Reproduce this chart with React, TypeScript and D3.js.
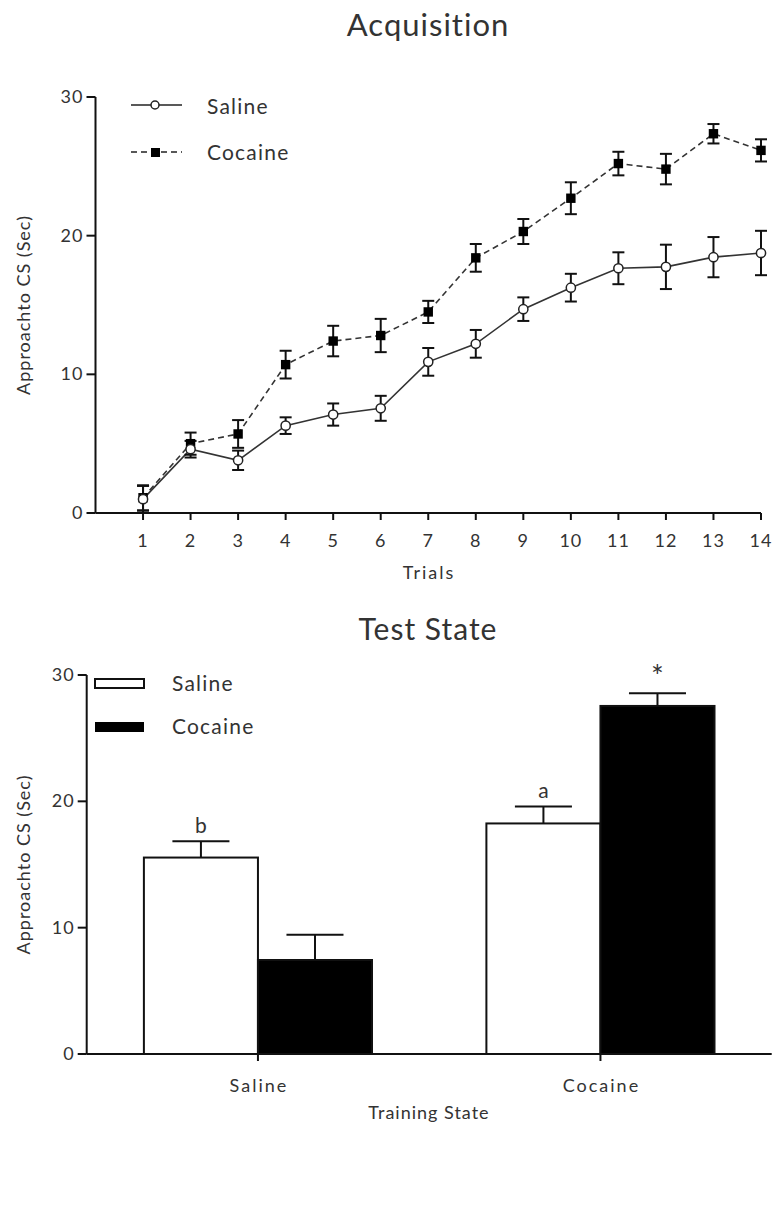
import * as d3 from "d3";

const trials = [1, 2, 3, 4, 5, 6, 7, 8, 9, 10, 11, 12, 13, 14];
const salineMean = [1.0, 4.6, 3.8, 6.3, 7.1, 7.55, 10.9, 12.2, 14.7, 16.25, 17.65, 17.75, 18.45, 18.75];
const salineErr = [0.95, 0.6, 0.7, 0.6, 0.8, 0.9, 1.0, 1.0, 0.85, 1.0, 1.15, 1.6, 1.45, 1.6];
const cocaineMean = [1.1, 5.0, 5.7, 10.7, 12.4, 12.8, 14.5, 18.4, 20.3, 22.7, 25.2, 24.8, 27.35, 26.15];
const cocaineErr = [0.9, 0.8, 1.0, 1.0, 1.1, 1.2, 0.8, 1.0, 0.9, 1.15, 0.85, 1.1, 0.7, 0.8];

const trainingStates = ["Saline", "Cocaine"];
const testGroups = ["Saline", "Cocaine"];
const salineTestMean = [15.55, 18.25];
const salineTestErr = [1.3, 1.35];
const cocaineTestMean = [7.44, 27.55];
const cocaineTestErr = [2.0, 1.0];
const salineTestMarks = ["b", "a"];
const cocaineTestMarks = ["", "*"];

const yTicks = [0, 10, 20, 30];

const FONT = "Lato, 'Open Sans', sans-serif";
const TXT = "#333";

function Acquisition() {
  const x = d3.scaleLinear().domain([0, 14]).range([95.5, 761]);
  const y = d3.scaleLinear().domain([0, 30]).range([513, 97]);
  const line = d3
    .line<number>()
    .x((d, i) => x(trials[i]))
    .y((d) => y(d));
  const cap = 6;

  return (
    <g fontFamily={FONT} fill={TXT}>
      <text x={428} y={36} textAnchor="middle" fontSize={31} letterSpacing={1}>
        Acquisition
      </text>

      {/* axes */}
      <line x1={x(0)} x2={x(0)} y1={y(30)} y2={y(0)} stroke="#111" strokeWidth={2} />
      <line x1={x(0)} x2={x(14)} y1={y(0)} y2={y(0)} stroke="#111" strokeWidth={2} />
      {yTicks.map((t) => (
        <g key={t}>
          <line x1={x(0) - 9} x2={x(0)} y1={y(t)} y2={y(t)} stroke="#111" strokeWidth={2} />
          <text x={x(0) - 12} y={y(t) + 6} textAnchor="end" fontSize={18} letterSpacing={1}>
            {t}
          </text>
        </g>
      ))}
      {trials.map((t) => (
        <g key={t}>
          <line x1={x(t)} x2={x(t)} y1={y(0)} y2={y(0) + 7} stroke="#111" strokeWidth={2} />
          <text x={x(t)} y={y(0) + 34} textAnchor="middle" fontSize={18} letterSpacing={1}>
            {t}
          </text>
        </g>
      ))}
      <text x={429} y={579} textAnchor="middle" fontSize={18} letterSpacing={2}>
        Trials
      </text>
      <text
        transform={`translate(30,${(y(0) + y(30)) / 2}) rotate(-90)`}
        textAnchor="middle"
        fontSize={18}
        letterSpacing={1}
      >
        Approachto CS (Sec)
      </text>

      {/* lines */}
      <path d={line(cocaineMean) || ""} fill="none" stroke="#333" strokeWidth={1.6} strokeDasharray="6,4" />
      <path d={line(salineMean) || ""} fill="none" stroke="#333" strokeWidth={1.6} />

      {/* error bars */}
      {trials.map((t, i) => (
        <g key={"e" + t} stroke="#111" strokeWidth={2}>
          <line x1={x(t)} x2={x(t)} y1={y(salineMean[i] - salineErr[i])} y2={y(salineMean[i] + salineErr[i])} />
          <line x1={x(t) - cap} x2={x(t) + cap} y1={y(salineMean[i] + salineErr[i])} y2={y(salineMean[i] + salineErr[i])} />
          <line x1={x(t) - cap} x2={x(t) + cap} y1={y(Math.max(0, salineMean[i] - salineErr[i]))} y2={y(Math.max(0, salineMean[i] - salineErr[i]))} />
          <line x1={x(t)} x2={x(t)} y1={y(cocaineMean[i] - cocaineErr[i])} y2={y(cocaineMean[i] + cocaineErr[i])} />
          <line x1={x(t) - cap} x2={x(t) + cap} y1={y(cocaineMean[i] + cocaineErr[i])} y2={y(cocaineMean[i] + cocaineErr[i])} />
          <line x1={x(t) - cap} x2={x(t) + cap} y1={y(cocaineMean[i] - cocaineErr[i])} y2={y(cocaineMean[i] - cocaineErr[i])} />
        </g>
      ))}

      {/* markers */}
      {trials.map((t, i) => (
        <rect key={"c" + t} x={x(t) - 4.7} y={y(cocaineMean[i]) - 4.7} width={9.4} height={9.4} fill="#000" />
      ))}
      {trials.map((t, i) => (
        <circle key={"s" + t} cx={x(t)} cy={y(salineMean[i])} r={4.6} fill="#fff" stroke="#222" strokeWidth={1.5} />
      ))}

      {/* legend */}
      <line x1={131} x2={182} y1={105} y2={105} stroke="#222" strokeWidth={1.6} />
      <circle cx={155} cy={105} r={4} fill="#fff" stroke="#222" strokeWidth={1.5} />
      <text x={207} y={114} fontSize={21} letterSpacing={1.2}>
        Saline
      </text>
      <line x1={131} x2={182} y1={152} y2={152} stroke="#222" strokeWidth={1.6} strokeDasharray="6,4" />
      <rect x={151} y={148} width={9} height={9} fill="#000" />
      <text x={207} y={160} fontSize={21} letterSpacing={1.2}>
        Cocaine
      </text>
    </g>
  );
}

function TestState() {
  const y = d3.scaleLinear().domain([0, 30]).range([1054, 675]);
  const x0 = d3.scaleBand<string>().domain(trainingStates).range([86.7, 771.7]).paddingInner(0.334).paddingOuter(0.167);
  const x1 = d3.scaleBand<string>().domain(testGroups).range([0, x0.bandwidth()]).padding(0);
  const left = 86.7;

  const groups = trainingStates.map((s, i) => [
    { g: testGroups[0], v: salineTestMean[i], e: salineTestErr[i], m: salineTestMarks[i], fill: "#fff" },
    { g: testGroups[1], v: cocaineTestMean[i], e: cocaineTestErr[i], m: cocaineTestMarks[i], fill: "#000" },
  ]);

  return (
    <g fontFamily={FONT} fill={TXT}>
      <text x={428} y={640} textAnchor="middle" fontSize={30} letterSpacing={1}>
        Test State
      </text>

      {groups.map((bars, i) =>
        bars.map((b) => {
          const bx = (x0(trainingStates[i]) || 0) + (x1(b.g) || 0);
          const w = x1.bandwidth();
          const cx = bx + w / 2;
          return (
            <g key={i + b.g}>
              <line x1={cx} x2={cx} y1={y(b.v)} y2={y(b.v + b.e)} stroke="#111" strokeWidth={2} />
              <line x1={cx - w / 4} x2={cx + w / 4} y1={y(b.v + b.e)} y2={y(b.v + b.e)} stroke="#111" strokeWidth={2} />
              <rect x={bx} y={y(b.v)} width={w} height={y(0) - y(b.v)} fill={b.fill} stroke="#111" strokeWidth={2} />
              {b.m && (
                <text
                  x={cx}
                  y={y(b.v + b.e) - (b.m === "*" ? 6 : 8)}
                  textAnchor="middle"
                  fontSize={b.m === "*" ? 30 : 21}
                >
                  {b.m}
                </text>
              )}
            </g>
          );
        })
      )}

      {/* axes */}
      <line x1={left} x2={left} y1={y(30)} y2={y(0)} stroke="#111" strokeWidth={2} />
      <line x1={left} x2={771.7} y1={y(0)} y2={y(0)} stroke="#111" strokeWidth={2} />
      {yTicks.map((t) => (
        <g key={t}>
          <line x1={left - 9} x2={left} y1={y(t)} y2={y(t)} stroke="#111" strokeWidth={2} />
          <text x={left - 12} y={y(t) + 6} textAnchor="end" fontSize={18} letterSpacing={1}>
            {t}
          </text>
        </g>
      ))}
      {trainingStates.map((s) => {
        const cx = (x0(s) || 0) + x0.bandwidth() / 2;
        return (
          <g key={s}>
            <line x1={cx} x2={cx} y1={y(0)} y2={y(0) + 7} stroke="#111" strokeWidth={2} />
            <text x={cx + 1} y={y(0) + 38} textAnchor="middle" fontSize={18} letterSpacing={2}>
              {s}
            </text>
          </g>
        );
      })}
      <text x={429} y={1119} textAnchor="middle" fontSize={18} letterSpacing={1}>
        Training State
      </text>
      <text
        transform={`translate(30,${(y(0) + y(30)) / 2}) rotate(-90)`}
        textAnchor="middle"
        fontSize={18}
        letterSpacing={1}
      >
        Approachto CS (Sec)
      </text>

      {/* legend */}
      <rect x={95} y={679} width={49} height={9} fill="#fff" stroke="#111" strokeWidth={2} />
      <text x={172} y={691} fontSize={21} letterSpacing={1.2}>
        Saline
      </text>
      <rect x={95} y={722} width={49} height={10} fill="#000" />
      <text x={172} y={734} fontSize={21} letterSpacing={1.2}>
        Cocaine
      </text>
    </g>
  );
}

export default function App() {
  return (
    <svg
      width={775}
      height={1228}
      style={{ position: "absolute", left: 0, top: 0, background: "#fff" }}
    >
      <rect width={775} height={1228} fill="#fff" />
      <Acquisition />
      <TestState />
    </svg>
  );
}
